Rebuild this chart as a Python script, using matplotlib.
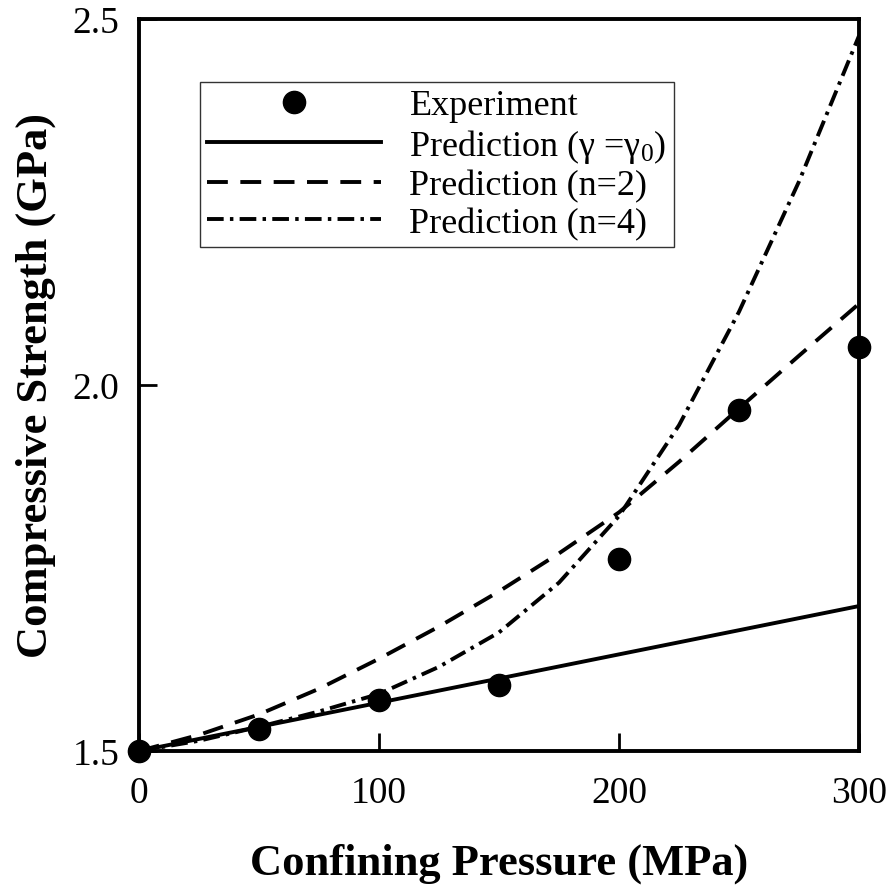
import matplotlib
matplotlib.use("Agg")
import matplotlib.pyplot as plt

plt.rcParams['font.family'] = ['Liberation Serif', 'DejaVu Serif']
plt.rcParams['mathtext.fontset'] = 'custom'
plt.rcParams['mathtext.rm'] = 'Liberation Serif'
plt.rcParams['mathtext.it'] = 'Liberation Serif'
plt.rcParams['lines.scale_dashes'] = False

# Experimental data
exp_p = [0, 50, 100, 150, 200, 250, 300]
exp_s = [1.50, 1.530, 1.570, 1.590, 1.762, 1.966, 2.052]

# Prediction gamma = gamma0 (straight line)
lin_p = [0, 300]
lin_s = [1.50, 1.698]

# Prediction n=2
n2_p = [0, 25, 50, 75, 100, 125, 150, 175, 200, 225, 250, 275, 300]
n2_s = [1.50, 1.522, 1.550, 1.585, 1.626, 1.670, 1.718, 1.770, 1.826, 1.895, 1.968, 2.040, 2.111]

# Prediction n=4
n4_p = [0, 25, 50, 75, 100, 125, 150, 175, 200, 225, 250, 275, 300]
n4_s = [1.50, 1.514, 1.533, 1.554, 1.578, 1.615, 1.662, 1.730, 1.821, 1.945, 2.100, 2.278, 2.477]

x_ticks = [0, 100, 200, 300]
y_ticks = [1.5, 2.0, 2.5]
y_ticklabels = ["1.5", "2.0", "2.5"]

fig = plt.figure(figsize=(8.95, 8.87), dpi=100)
ax = fig.add_axes([0.1553, 0.1522, 0.8045, 0.8253])

ax.plot(exp_p, exp_s, 'o', color='black', markersize=16, label='Experiment', zorder=5, clip_on=False)
ax.plot(lin_p, lin_s, '-', color='black', lw=2.8, label=r'Prediction (γ =γ$_0$)')
ax.plot(n2_p, n2_s, color='black', lw=2.8, dashes=(15, 9), label='Prediction (n=2)')
ax.plot(n4_p, n4_s, color='black', lw=2.8, dashes=(12, 4.5, 2.5, 4.5), label='Prediction (n=4)')

ax.set_xlim(0, 300)
ax.set_ylim(1.5, 2.5)
ax.set_xticks(x_ticks)
ax.set_yticks(y_ticks)
ax.set_yticklabels(y_ticklabels)
ax.tick_params(direction='in', length=13, width=2, labelsize=27)
ax.tick_params(axis='x', pad=18)
ax.tick_params(axis='y', pad=14)
for s in ax.spines.values():
    s.set_linewidth(2.8)

ax.set_xlabel('Confining Pressure (MPa)', fontsize=32, fontweight='bold', labelpad=23)
ax.set_ylabel('Compressive Strength (GPa)', fontsize=32, fontweight='bold', labelpad=12)

leg = ax.legend(loc='upper left', bbox_to_anchor=((200 - 139) / 720, 1 - (83 - 20) / 732),
                fontsize=26, frameon=True, fancybox=False, shadow=False,
                handlelength=4.8, handletextpad=0.8, borderpad=0.2, labelspacing=0.12,
                borderaxespad=0)
leg.get_frame().set_edgecolor('black')
leg.get_frame().set_linewidth(1.0)

fig.savefig('out.png', dpi=100)
